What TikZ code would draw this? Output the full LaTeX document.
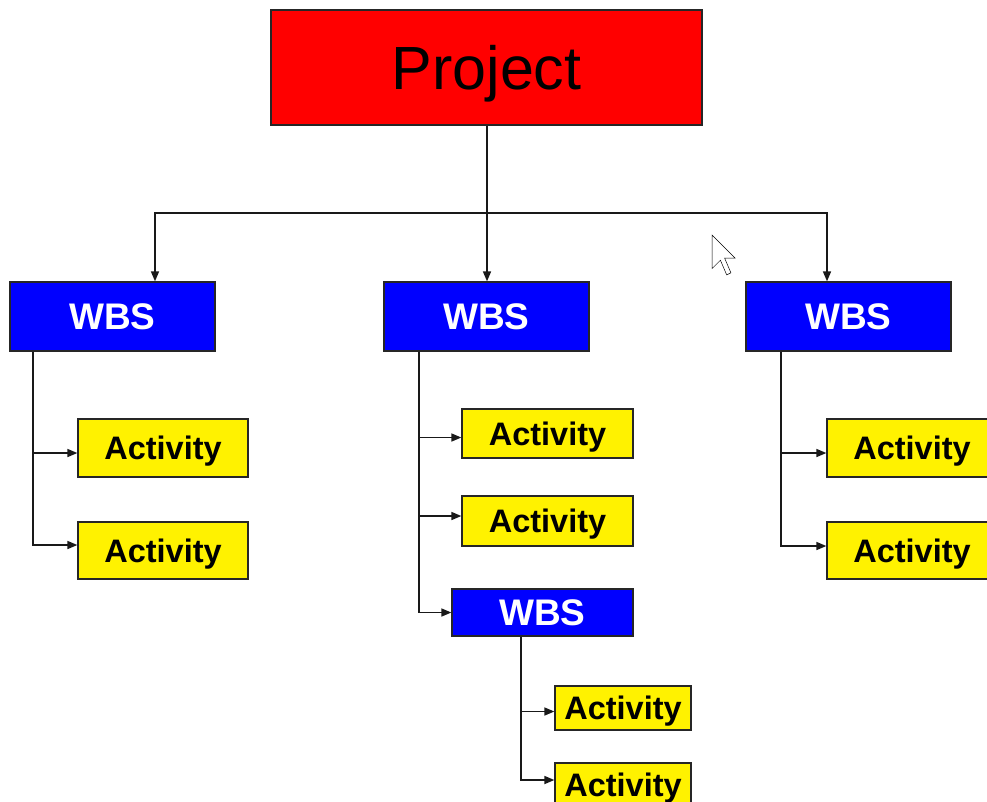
\documentclass[tikz,border=0pt]{standalone}
\usepackage{fontspec}
\setmainfont{Liberation Sans}
\usetikzlibrary{arrows.meta}
\begin{document}
\begin{tikzpicture}[x=1pt,y=-1pt,
  box/.style={draw=black!85,line width=1.3pt,inner sep=0pt,anchor=center,text depth=0pt},
  proj/.style={box,fill=red,minimum width=431pt,minimum height=115pt,text height=43.7pt,font=\fontsize{61}{61}\selectfont},
  wbs/.style={box,fill=blue,text=white,minimum width=205pt,minimum height=69pt,text height=26.5pt,font=\bfseries\fontsize{37}{37}\selectfont},
  act/.style={box,fill=yellow,minimum width=170pt,minimum height=58pt,text height=23.3pt,font=\bfseries\fontsize{32.5}{32.5}\selectfont},
  link/.style={draw=black!90,line width=1.6pt},
  arr/.style={link,-{Triangle[length=10pt,width=8pt]}}]
\useasboundingbox (0,0) rectangle (987,801);
\clip (0,0) rectangle (987,801);
% nodes
\node[proj] (p) at (486.5,67.5) {Project};
\node[wbs] (w1) at (112.5,316.5) {WBS};
\node[wbs] (w2) at (486.5,316.5) {WBS};
\node[wbs] (w3) at (848.5,316.5) {WBS};
\node[act] (a11) at (163,448) {Activity};
\node[act,minimum height=57pt] (a12) at (163,550.5) {Activity};
\node[act,minimum width=171pt,minimum height=49pt] (a21) at (547.5,433.5) {Activity};
\node[act,minimum width=171pt,minimum height=50pt] (a22) at (547.5,521) {Activity};
\node[wbs,minimum width=181pt,minimum height=47pt] (w4) at (542.5,612.5) {WBS};
\node[act,minimum width=136pt,minimum height=44pt] (a31) at (623,708) {Activity};
\node[act,minimum width=136pt,minimum height=44pt] (a32) at (623,785) {Activity};
\node[act] (a41) at (912,448) {Activity};
\node[act,minimum height=57pt] (a42) at (912,550.5) {Activity};
% top connectors
\coordinate (j) at (487,213);
\draw[link] ([xshift=0.5pt]p.south) -- (j);
\draw[arr] (j) -| ([xshift=42.5pt]w1.north);
\draw[arr] (j) -- ([xshift=0.5pt]w2.north);
\draw[arr] (j) -| ([xshift=-21.5pt]w3.north);
% left branch
\draw[arr] ([xshift=-79.5pt]w1.south) |- ([yshift=-5pt]a11.west);
\draw[arr] ([xshift=-79.5pt]w1.south) |- ([yshift=5.5pt]a12.west);
% middle branch
\draw[arr] ([xshift=-67.5pt]w2.south) |- ([yshift=-4pt]a21.west);
\draw[arr] ([xshift=-67.5pt]w2.south) |- ([yshift=5pt]a22.west);
\draw[arr] ([xshift=-67.5pt]w2.south) |- (w4.west);
% sub wbs
\draw[arr] ([xshift=-21.5pt]w4.south) |- ([yshift=-3.5pt]a31.west);
\draw[arr] ([xshift=-21.5pt]w4.south) |- ([yshift=5pt]a32.west);
% right branch
\draw[arr] ([xshift=-67.5pt]w3.south) |- ([yshift=-5pt]a41.west);
\draw[arr] ([xshift=-67.5pt]w3.south) |- ([yshift=4.5pt]a42.west);
% mouse cursor
\begin{scope}[shift={(712,235)},scale=2.1]
\draw[fill=white,line width=0.5pt,line join=miter] (0,0) -- (0,16) -- (4,12) -- (7,19) -- (9,18) -- (6,11) -- (11,11) -- cycle;
\end{scope}
\end{tikzpicture}
\end{document}
